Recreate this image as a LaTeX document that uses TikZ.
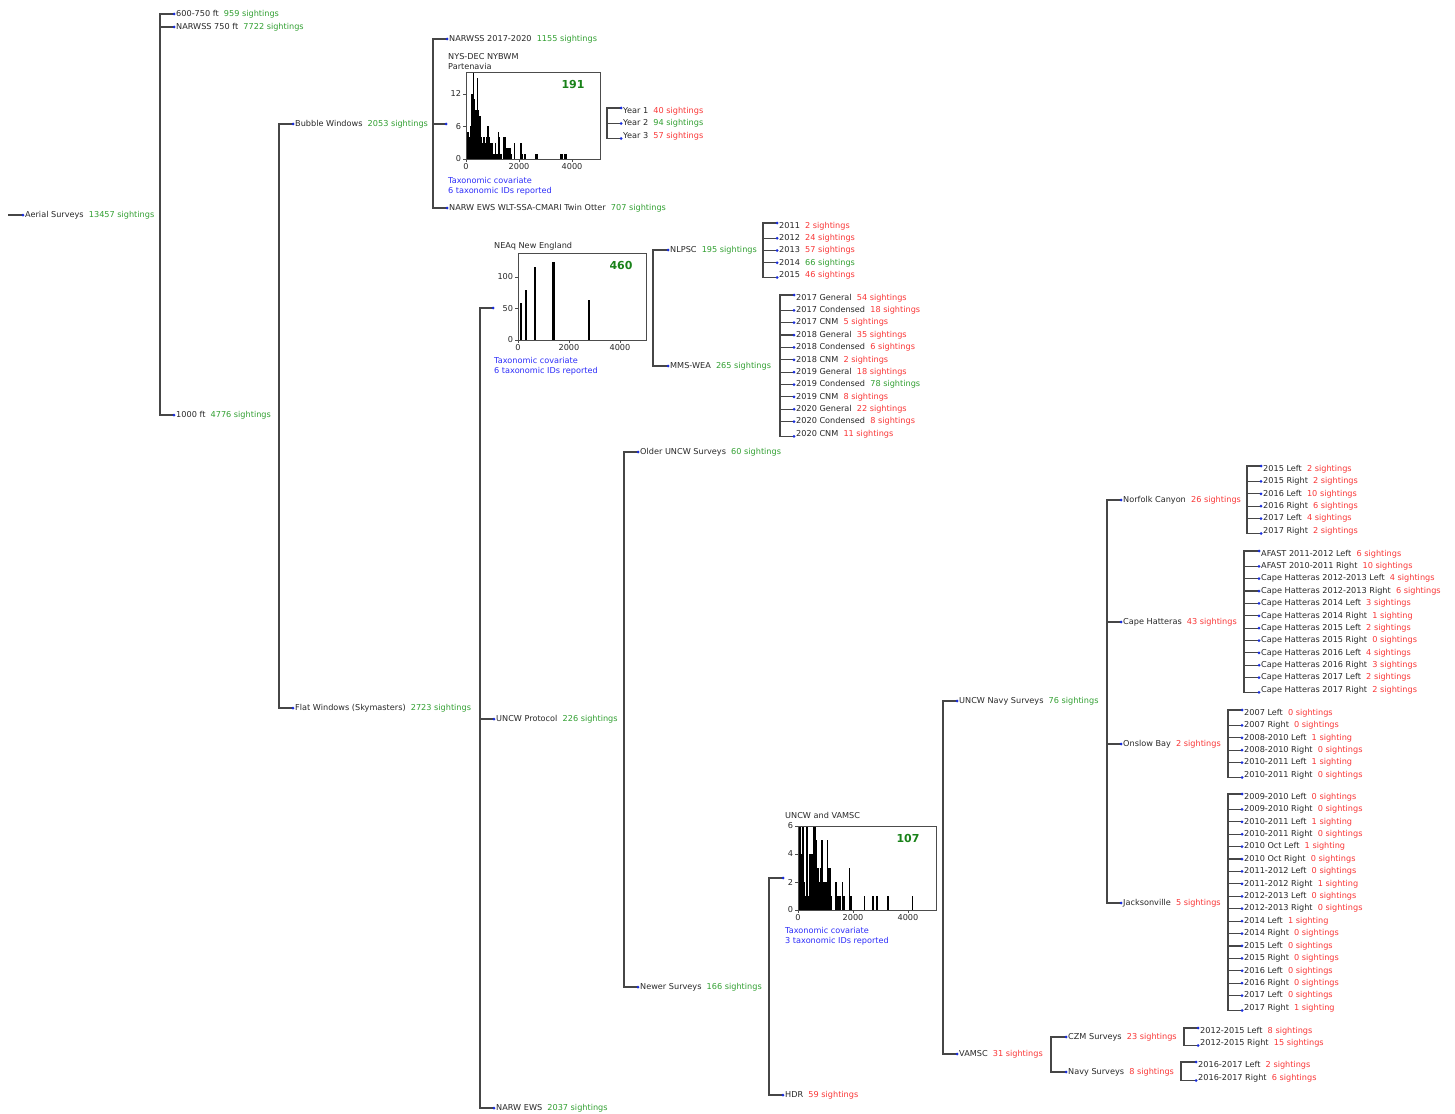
\documentclass[tikz,border=0pt]{standalone}
\usepackage{fontspec}
\setmainfont{DejaVu Sans}
\usepackage{tikz}
\usetikzlibrary{calc,positioning}
\definecolor{txt}{RGB}{40,40,40}
\definecolor{linegray}{RGB}{70,70,70}
\definecolor{dotblue}{RGB}{25,45,220}
\definecolor{ok}{RGB}{50,160,50}
\definecolor{low}{RGB}{250,55,55}
\definecolor{taxblue}{RGB}{45,45,250}
\definecolor{biggreen}{RGB}{25,130,25}
\tikzstyle{link}=[draw=linegray,line width=1.2pt]
\tikzstyle{dot}=[circle,fill=dotblue,inner sep=0,minimum size=3pt]
\tikzstyle{tag}=[anchor=west,inner sep=0,text=txt]
\tikzstyle{axis}=[draw=black!70,line width=0.8pt]
\tikzstyle{ticklbl}=[inner sep=1.5pt,text=txt]
\tikzstyle{big}=[font=\fontsize{11}{13}\selectfont\bfseries,text=biggreen]
\tikzstyle{taxon}=[tag,align=left,text=taxblue]
\newcommand{\cntok}[1]{\textcolor{ok}{#1}}
\newcommand{\cntlow}[1]{\textcolor{low}{#1}}
% name, bar, dot x, text y, dot y, text
\newcommand{\branch}[6]{%
  \coordinate (c-#1) at (#3,#5);
  \draw[link] (#2) |- (c-#1);
  \node[dot] (d-#1) at (c-#1) {};
  \node[tag] (#1) at (#3+2,#4) {#6};}
% prefix, bar, dot x, first y, step, count, list
\newcommand{\leafset}[7]{%
  \foreach \lab/\cnt/\col [count=\i] in {#7} {
    \pgfmathsetmacro\yy{#4+(\i-1)*#5}
    \pgfmathsetmacro\yd{\yy-3*(\i==1)+2.5*(\i==#6)}
    \branch{#1\i}{#2}{#3}{\yy}{\yd}{\lab\ \ \textcolor{\col}{\cnt}}
  }}

\begin{document}
\begin{tikzpicture}[x=1pt,y=-1pt,font=\fontsize{8.15}{10}\selectfont]
  \useasboundingbox (0,0) rectangle (1455,1113);
  \fill[white] (0,0) rectangle (1455,1113);

  % top levels
  \coordinate (root) at (8,215);
  \branch{aerial}{root}{23}{215}{215}{Aerial Surveys\ \ \cntok{13457 sightings}}
  \coordinate (aerialbar) at (160,215);
  \branch{low}{aerialbar}{174}{14}{14}{600-750 ft\ \ \cntok{959 sightings}}
  \branch{narwss}{aerialbar}{174}{27}{27}{NARWSS 750 ft\ \ \cntok{7722 sightings}}
  \branch{thousand}{aerialbar}{174}{415}{415}{1000 ft\ \ \cntok{4776 sightings}}
  \coordinate (thousandbar) at (279,415);
  \branch{bubble}{thousandbar}{293}{124}{124}{Bubble Windows\ \ \cntok{2053 sightings}}
  \branch{flat}{thousandbar}{293}{708}{708}{Flat Windows (Skymasters)\ \ \cntok{2723 sightings}}

  % bubble windows
  \coordinate (bubblebar) at (433,124);
  \branch{narwssb}{bubblebar}{447}{39}{39}{NARWSS 2017-2020\ \ \cntok{1155 sightings}}
  \branch{twin}{bubblebar}{447}{208}{208}{NARW EWS WLT-SSA-CMARI Twin Otter\ \ \cntok{707 sightings}}
  \coordinate (c-nys) at (446,124);
  \draw[link] (bubblebar) |- (c-nys);
  \node[dot] (d-nys) at (c-nys) {};
  \node[tag,align=left] (nystitle) at (448,62) {NYS-DEC NYBWM\\Partenavia};
  \begin{scope}[shift={(466,159)},x=0.0265pt,y=5.42pt]
    \foreach \k/\h in {0/7,1/5,2/4,3/6,4/12,5/16,6/11,7/9,8/15,9/9,10/8,11/4,12/3,
      13/4,14/3,15/4,16/6,17/4,18/3,19/3,20/1,21/1,22/3,23/1,24/5,25/4,26/1,28/4,
      29/4,30/2,31/2,32/2,33/2,34/1,36/3,41/3,42/1,44/1,52/1,53/1,71/1,72/1,74/1,75/1}
      \fill (\k*50,0) rectangle ++(50,\h);
    \draw[axis] (0,0) rectangle (5060,16);
    \foreach \t in {0,6,12} \draw[axis] (0,\t) -- ++(-3pt,0) node[ticklbl,anchor=east] {\t};
    \foreach \t in {0,2000,4000} \draw[axis] (\t,0) -- ++(0,-3pt) node[ticklbl,anchor=north] {\t};
  \end{scope}
  \node[big] (nysn) at (573,85) {191};
  \node[taxon] (nystax) at (448,186) {Taxonomic covariate\\6 taxonomic IDs reported};
  \coordinate (nysbar) at (607,124);
  \leafset{yr}{nysbar}{621}{111}{12.5}{3}{Year 1/40 sightings/low, Year 2/94 sightings/ok,
    Year 3/57 sightings/low}

  % flat windows
  \coordinate (flatbar) at (480,708);
  \coordinate (c-neaq) at (493,308);
  \draw[link] (flatbar) |- (c-neaq);
  \node[dot] (d-neaq) at (c-neaq) {};
  \node[tag] (neaqtitle) at (494,246) {NEAq New England};
  \begin{scope}[shift={(518,340)},x=0.0255pt,y=0.63pt]
    \foreach \k/\h in {119/59,318/79,675/116,1391/124,2781/63}
      \fill (\k-45,0) rectangle (\k+45,\h);
    \draw[axis] (0,0) rectangle (5020,138);
    \foreach \t in {0,50,100} \draw[axis] (0,\t) -- ++(-3pt,0) node[ticklbl,anchor=east] {\t};
    \foreach \t in {0,2000,4000} \draw[axis] (\t,0) -- ++(0,-3pt) node[ticklbl,anchor=north] {\t};
  \end{scope}
  \node[big] (neaqn) at (621,265) {460};
  \node[taxon] (neaqtax) at (494,366) {Taxonomic covariate\\6 taxonomic IDs reported};
  \branch{uncw}{flatbar}{494}{719}{719}{UNCW Protocol\ \ \cntok{226 sightings}}
  \branch{ews}{flatbar}{494}{1108}{1108}{NARW EWS\ \ \cntok{2037 sightings}}

  \coordinate (neaqbar) at (653,308);
  \branch{nlpsc}{neaqbar}{668}{250}{250}{NLPSC\ \ \cntok{195 sightings}}
  \branch{mms}{neaqbar}{668}{366}{366}{MMS-WEA\ \ \cntok{265 sightings}}
  \coordinate (nlpscbar) at (763,250);
  \leafset{nl}{nlpscbar}{777}{226}{12.25}{5}{2011/2 sightings/low, 2012/24 sightings/low,
    2013/57 sightings/low, 2014/66 sightings/ok, 2015/46 sightings/low}
  \coordinate (mmsbar) at (780,366);
  \leafset{mw}{mmsbar}{794}{298}{12.36}{12}{2017 General/54 sightings/low,
    2017 Condensed/18 sightings/low, 2017 CNM/5 sightings/low, 2018 General/35 sightings/low,
    2018 Condensed/6 sightings/low, 2018 CNM/2 sightings/low, 2019 General/18 sightings/low,
    2019 Condensed/78 sightings/ok, 2019 CNM/8 sightings/low, 2020 General/22 sightings/low,
    2020 Condensed/8 sightings/low, 2020 CNM/11 sightings/low}

  % UNCW protocol
  \coordinate (uncwbar) at (624,719);
  \branch{older}{uncwbar}{638}{452}{452}{Older UNCW Surveys\ \ \cntok{60 sightings}}
  \branch{newer}{uncwbar}{638}{987}{987}{Newer Surveys\ \ \cntok{166 sightings}}
  \coordinate (newerbar) at (769,987);
  \coordinate (c-uv) at (783,878);
  \draw[link] (newerbar) |- (c-uv);
  \node[dot] (d-uv) at (c-uv) {};
  \node[tag] (uvtitle) at (785,815) {UNCW and VAMSC};
  \begin{scope}[shift={(798,910)},x=0.0275pt,y=14pt]
    \foreach \k/\h in {0/2,1/6,2/4,3/6,4/2,5/1,6/6,7/1,8/4,9/4,10/4,11/6,12/6,13/5,14/3,
      15/2,16/3,17/5,18/2,19/2,20/2,21/5,22/3,23/3,24/1,27/2,28/1,29/1,30/1,32/2,33/1,
      37/3,38/1,48/1,54/1,57/1,65/1,83/1}
      \fill (\k*50,0) rectangle ++(50,\h);
    \draw[axis] (0,0) rectangle (5020,6);
    \foreach \t in {0,2,4,6} \draw[axis] (0,\t) -- ++(-3pt,0) node[ticklbl,anchor=east] {\t};
    \foreach \t in {0,2000,4000} \draw[axis] (\t,0) -- ++(0,-3pt) node[ticklbl,anchor=north] {\t};
  \end{scope}
  \node[big] (uvn) at (908,838) {107};
  \node[taxon] (uvtax) at (785,936) {Taxonomic covariate\\3 taxonomic IDs reported};
  \branch{hdr}{newerbar}{783}{1095}{1095}{HDR\ \ \cntlow{59 sightings}}

  \coordinate (uvbar) at (943,878);
  \branch{navy}{uvbar}{957}{701}{701}{UNCW Navy Surveys\ \ \cntok{76 sightings}}
  \branch{vamsc}{uvbar}{957}{1054}{1054}{VAMSC\ \ \cntlow{31 sightings}}

  % UNCW navy surveys
  \coordinate (navybar) at (1107,701);
  \branch{norfolk}{navybar}{1121}{500}{500}{Norfolk Canyon\ \ \cntlow{26 sightings}}
  \branch{hatteras}{navybar}{1121}{622}{622}{Cape Hatteras\ \ \cntlow{43 sightings}}
  \branch{onslow}{navybar}{1121}{744}{744}{Onslow Bay\ \ \cntlow{2 sightings}}
  \branch{jax}{navybar}{1121}{903}{903}{Jacksonville\ \ \cntlow{5 sightings}}
  \coordinate (norfolkbar) at (1247,500);
  \leafset{nf}{norfolkbar}{1261}{469}{12.4}{6}{2015 Left/2 sightings/low,
    2015 Right/2 sightings/low, 2016 Left/10 sightings/low, 2016 Right/6 sightings/low,
    2017 Left/4 sightings/low, 2017 Right/2 sightings/low}
  \coordinate (hatterasbar) at (1244,622);
  \leafset{ch}{hatterasbar}{1259}{554}{12.36}{12}{AFAST 2011-2012 Left/6 sightings/low,
    AFAST 2010-2011 Right/10 sightings/low, Cape Hatteras 2012-2013 Left/4 sightings/low,
    Cape Hatteras 2012-2013 Right/6 sightings/low, Cape Hatteras 2014 Left/3 sightings/low,
    Cape Hatteras 2014 Right/1 sighting/low, Cape Hatteras 2015 Left/2 sightings/low,
    Cape Hatteras 2015 Right/0 sightings/low, Cape Hatteras 2016 Left/4 sightings/low,
    Cape Hatteras 2016 Right/3 sightings/low, Cape Hatteras 2017 Left/2 sightings/low,
    Cape Hatteras 2017 Right/2 sightings/low}
  \coordinate (onslowbar) at (1228,744);
  \leafset{ob}{onslowbar}{1242}{713}{12.4}{6}{2007 Left/0 sightings/low,
    2007 Right/0 sightings/low, 2008-2010 Left/1 sighting/low, 2008-2010 Right/0 sightings/low,
    2010-2011 Left/1 sighting/low, 2010-2011 Right/0 sightings/low}
  \coordinate (jaxbar) at (1228,903);
  \leafset{jx}{jaxbar}{1242}{797}{12.41}{18}{2009-2010 Left/0 sightings/low,
    2009-2010 Right/0 sightings/low, 2010-2011 Left/1 sighting/low,
    2010-2011 Right/0 sightings/low, 2010 Oct Left/1 sighting/low, 2010 Oct Right/0 sightings/low,
    2011-2012 Left/0 sightings/low, 2011-2012 Right/1 sighting/low,
    2012-2013 Left/0 sightings/low, 2012-2013 Right/0 sightings/low, 2014 Left/1 sighting/low,
    2014 Right/0 sightings/low, 2015 Left/0 sightings/low, 2015 Right/0 sightings/low,
    2016 Left/0 sightings/low, 2016 Right/0 sightings/low, 2017 Left/0 sightings/low,
    2017 Right/1 sighting/low}

  % VAMSC
  \coordinate (vamscbar) at (1051,1054);
  \branch{czm}{vamscbar}{1066}{1037}{1037}{CZM Surveys\ \ \cntlow{23 sightings}}
  \branch{nsv}{vamscbar}{1066}{1072}{1072}{Navy Surveys\ \ \cntlow{8 sightings}}
  \coordinate (czmbar) at (1184,1037);
  \leafset{cz}{czmbar}{1198}{1031}{12}{2}{2012-2015 Left/8 sightings/low,
    2012-2015 Right/15 sightings/low}
  \coordinate (nsvbar) at (1181,1072);
  \leafset{ns}{nsvbar}{1196}{1065}{13}{2}{2016-2017 Left/2 sightings/low,
    2016-2017 Right/6 sightings/low}
\end{tikzpicture}
\end{document}
